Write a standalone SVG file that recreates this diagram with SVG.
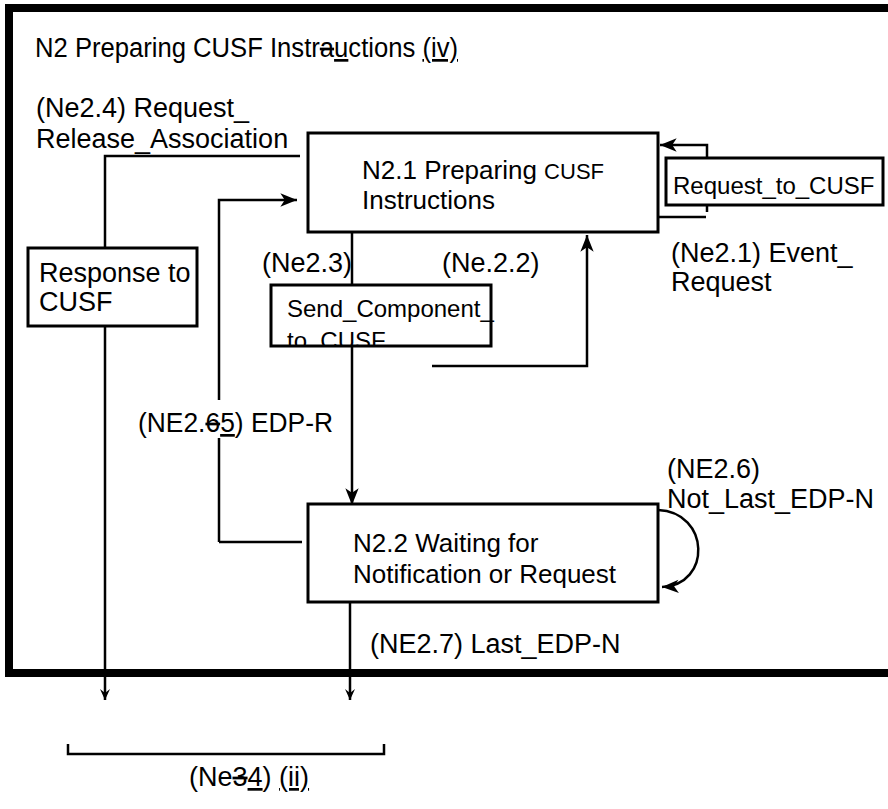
<svg xmlns="http://www.w3.org/2000/svg" width="888" height="809" viewBox="0 0 888 809">
<style>
text{font-family:"Liberation Sans",Arial,sans-serif;fill:#000}
.lbl{font-size:27px}
.box{font-size:26px}
.sm{font-size:24px}
.b{fill:#fff;stroke:#000;stroke-width:3}
.c{fill:none;stroke:#000;stroke-width:2.5}
.u{text-decoration:underline}
.s{text-decoration:line-through}
</style>
<defs>
<marker id="ah" markerWidth="20" markerHeight="20" viewBox="-16 -8 18 16" refX="0" refY="0" orient="auto" markerUnits="userSpaceOnUse">
<path d="M0,0 L-15,-6 L-11,0 L-15,6 Z" fill="#000"/>
</marker>
<marker id="ahs" markerWidth="14" markerHeight="14" viewBox="-12 -7 14 14" refX="0" refY="0" orient="auto" markerUnits="userSpaceOnUse">
<path d="M0,0 L-11,-5 L-7,0 L-11,5 Z" fill="#000"/>
</marker>
<clipPath id="sendclip"><rect x="271" y="285" width="220" height="61"/></clipPath>
</defs>

<g id="frame">
<path d="M9,677 V8 H888" fill="none" stroke="#000" stroke-width="8"/>
<path d="M5,673 H888" fill="none" stroke="#000" stroke-width="8"/>
<text x="35" y="57" font-size="27" textLength="423" lengthAdjust="spacingAndGlyphs">N2 Preparing CUSF Instr<tspan class="s">a</tspan><tspan class="u">u</tspan>ctions <tspan class="u">(iv)</tspan></text>
</g>

<g id="connectors">
<path class="c" d="M300,156 H105 V248"/>
<path class="c" d="M105,326 V700" marker-end="url(#ahs)"/>
<path class="c" d="M219,542 V438"/>
<path class="c" d="M219,400 V200 H297" marker-end="url(#ah)"/>
<path class="c" d="M219,542 H302"/>
<path class="c" d="M352,232 V285"/>
<path class="c" d="M352,346 V505" marker-end="url(#ah)"/>
<path class="c" d="M432,366 H587 V235" marker-end="url(#ah)"/>
<path class="c" d="M707,158 V145 H660" marker-end="url(#ah)"/>
<path class="c" d="M655,217 H706"/>
<path class="c" d="M707,212 V202"/>
<path class="c" d="M658,510 C710,512 712,585 662,587" marker-end="url(#ah)"/>
<path class="c" d="M350,602 V700" marker-end="url(#ahs)"/>
<path class="c" d="M68,744 V754 H384 V744"/>
</g>

<g id="n2-1">
<rect class="b" x="308" y="133" width="350" height="99"/>
<text class="box" x="362" y="179">N2.1 Preparing <tspan font-size="22">CUSF</tspan></text>
<text class="box" x="362" y="209">Instructions</text>
</g>

<g id="request-to-cusf">
<rect class="b" x="666" y="158" width="217" height="47"/>
<text class="sm" x="673" y="194">Request_to_CUSF</text>
</g>

<g id="response-to-cusf">
<rect class="b" x="28" y="248" width="169" height="78"/>
<text class="lbl" x="39" y="282">Response to</text>
<text class="lbl" x="39" y="311">CUSF</text>
</g>

<g id="send-component">
<rect class="b" x="271" y="285" width="220" height="61"/>
<text class="sm" x="287" y="317">Send_Component_</text>
<text class="sm" x="287" y="349" clip-path="url(#sendclip)">to_CUSF</text>
</g>

<g id="n2-2">
<rect class="b" x="308" y="504" width="350" height="98"/>
<text class="box" x="353" y="552">N2.2 Waiting for</text>
<text class="box" x="353" y="583">Notification or Request</text>
</g>

<g id="labels">
<text class="lbl" x="36" y="117">(Ne2.4) Request_</text>
<text class="lbl" x="36" y="148">Release_Association</text>
<text class="lbl" x="352" y="272" text-anchor="end">(Ne2.3)</text>
<text class="lbl" x="442" y="272">(Ne.2.2)</text>
<text class="lbl" x="671" y="262">(Ne2.1) Event_</text>
<text class="lbl" x="671" y="291">Request</text>
<text class="lbl" x="138" y="432" textLength="195" lengthAdjust="spacingAndGlyphs">(NE2.<tspan class="s">6</tspan><tspan class="u">5</tspan>) EDP-R</text>
<text class="lbl" x="667" y="478">(NE2.6)</text>
<text class="lbl" x="667" y="508">Not_Last_EDP-N</text>
<text class="lbl" x="370" y="653">(NE2.7) Last_EDP-N</text>
<text class="lbl" x="189" y="786">(Ne<tspan class="s">3</tspan><tspan class="u">4</tspan>) <tspan class="u">(ii)</tspan></text>
</g>
</svg>
